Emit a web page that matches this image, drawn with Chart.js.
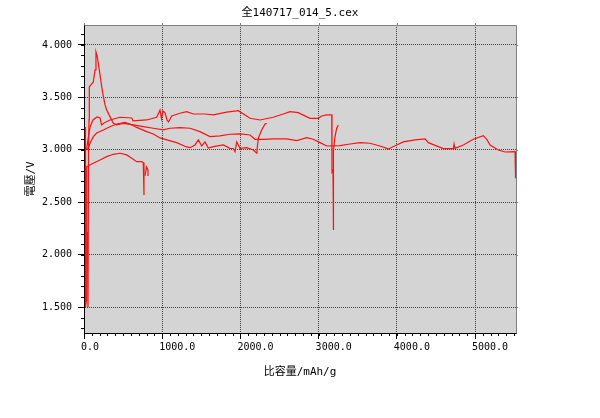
<!DOCTYPE html>
<html>
<head>
<meta charset="utf-8">
<script src="https://cdn.jsdelivr.net/npm/chart.js@4.4.1/dist/chart.umd.min.js"></script>
<style>
  html, body { margin: 0; padding: 0; background: #fff; }
</style>
</head>
<body>
<canvas id="chart" width="600" height="418"></canvas>
<script>
// 文字
const chartTitle = "全140717_014_5.cex";
const xTitle = "比容量/mAh/g";
const yTitle = "電壓/V";

// 刻度
const xTickValues = [0, 1000, 2000, 3000, 4000, 5000];
const yTickValues = [1.5, 2.0, 2.5, 3.0, 3.5, 4.0];

// 曲线数据 (比容量 mAh/g, 电压 V)
const discharge1X = [17, 19, 32, 35, 119, 205, 290, 375, 460, 546, 610, 674, 738, 758, 767];
const discharge1V = [3.218, 1.500, 1.570, 2.841, 2.873, 2.904, 2.936, 2.958, 2.968, 2.952, 2.920, 2.888, 2.888, 2.879, 2.570];

const tail1X = [780, 799, 818, 818];
const tail1V = [2.752, 2.837, 2.809, 2.752];

const charge1X = [45, 51, 58, 64, 68, 119, 141, 153, 170, 196, 214, 239, 269, 290, 332, 375, 418, 503, 630, 758, 886,
  1014, 1100, 1228, 1356, 1483, 1611, 1739, 1867, 1995, 2123, 2187, 2293, 2421, 2592, 2720, 2848, 2932, 3018, 3104,
  3274, 3402, 3530, 3657, 3785, 3892, 3999, 4083, 4233, 4361, 4403, 4531, 4595, 4723, 4732, 4744, 4851, 4978, 5106,
  5150, 5192, 5298, 5384, 5512, 5518];
const charge1V = [2.218, 1.500, 2.999, 3.285, 3.600, 3.647, 3.762, 3.933, 3.888, 3.762, 3.666, 3.543, 3.428, 3.380,
  3.317, 3.254, 3.238, 3.252, 3.238, 3.221, 3.206, 3.190, 3.206, 3.212, 3.206, 3.174, 3.126, 3.133, 3.149, 3.152,
  3.142, 3.101, 3.101, 3.104, 3.104, 3.088, 3.117, 3.101, 3.069, 3.037, 3.040, 3.056, 3.069, 3.063, 3.037, 3.009,
  3.047, 3.076, 3.095, 3.104, 3.069, 3.031, 3.012, 3.012, 3.056, 3.015, 3.047, 3.101, 3.136, 3.101, 3.047, 2.999,
  2.980, 2.983, 2.730];

const charge2X = [32, 51, 77, 115, 166, 205, 224, 256, 332, 460, 610, 627, 802, 930, 972, 991, 1010, 1036, 1061, 1081,
  1122, 1228, 1313, 1398, 1547, 1654, 1825, 1973, 2059, 2123, 2251, 2421, 2549, 2634, 2740, 2890, 2996, 3040, 3104,
  3168, 3171, 3184, 3188, 3192, 3210, 3231, 3252];
const charge2V = [2.999, 3.095, 3.218, 3.285, 3.314, 3.304, 3.238, 3.257, 3.285, 3.311, 3.304, 3.276, 3.285, 3.311,
  3.380, 3.295, 3.371, 3.352, 3.285, 3.266, 3.323, 3.349, 3.364, 3.342, 3.342, 3.333, 3.359, 3.374, 3.333, 3.301,
  3.285, 3.311, 3.342, 3.364, 3.355, 3.301, 3.301, 3.323, 3.333, 3.333, 2.790, 2.809, 2.237, 2.999, 3.126, 3.206, 3.238];

const charge3X = [38, 55, 77, 98, 119, 162, 247, 332, 418, 524, 588, 674, 802, 886, 972, 1058, 1185, 1313, 1356, 1420,
  1462, 1505, 1547, 1590, 1654, 1782, 1867, 1909, 1931, 1953, 1995, 2081, 2165, 2209, 2212, 2229, 2272, 2315, 2336];
const charge3V = [2.999, 3.015, 3.063, 3.095, 3.126, 3.161, 3.190, 3.221, 3.247, 3.262, 3.247, 3.214, 3.174, 3.152,
  3.114, 3.095, 3.069, 3.028, 3.021, 3.047, 3.095, 3.037, 3.076, 3.018, 3.031, 3.047, 3.015, 3.013, 2.983, 3.076,
  3.015, 3.021, 2.999, 2.968, 2.999, 3.111, 3.190, 3.247, 3.252];

const seriesX = [discharge1X, tail1X, charge1X, charge2X, charge3X];
const seriesV = [discharge1V, tail1V, charge1V, charge2V, charge3V];

const FONT = "'DejaVu Sans Mono', 'Noto Sans CJK SC', monospace";
const RED = "#ff1010";

const datasets = seriesX.map((xs, i) => ({
  data: xs.map((x, j) => ({ x: x, y: seriesV[i][j] })),
  borderColor: RED,
  borderWidth: 1.2,
  pointRadius: 0,
  tension: 0,
  fill: false
}));

// 绘图区背景、边框、小刻度和标题
const plotFrame = {
  id: "plotFrame",
  beforeDraw(chart) {
    const { ctx, chartArea: a } = chart;
    ctx.save();
    ctx.fillStyle = "#d4d4d4";
    ctx.fillRect(a.left, a.top, a.right - a.left, a.bottom - a.top);
    ctx.restore();
  },
  afterDraw(chart) {
    const { ctx, chartArea: a, scales } = chart;
    const x = scales.x, y = scales.y;
    ctx.save();
    ctx.lineWidth = 1;
    ctx.strokeStyle = "#000";
    ctx.beginPath();
    for (let v = 0; v <= x.max; v += 100) {
      const px = Math.round(x.getPixelForValue(v)) + 0.5;
      ctx.moveTo(px, a.bottom);
      ctx.lineTo(px, a.bottom + 3);
    }
    for (let i = Math.ceil(y.min * 10); i <= Math.floor(y.max * 10); i++) {
      const py = Math.round(y.getPixelForValue(i / 10)) + 0.5;
      ctx.moveTo(a.left - 3, py);
      ctx.lineTo(a.left, py);
    }
    ctx.stroke();
    // 上边和右边
    ctx.strokeStyle = "#808080";
    ctx.beginPath();
    ctx.moveTo(Math.round(a.left) + 0.5, Math.round(a.top) + 0.5);
    ctx.lineTo(Math.round(a.right) + 0.5, Math.round(a.top) + 0.5);
    ctx.lineTo(Math.round(a.right) + 0.5, Math.round(a.bottom) + 0.5);
    for (const v of xTickValues) {
      const px = Math.round(x.getPixelForValue(v)) + 0.5;
      ctx.moveTo(px, a.top - 2);
      ctx.lineTo(px, a.top);
    }
    for (const v of yTickValues) {
      const py = Math.round(y.getPixelForValue(v)) + 0.5;
      ctx.moveTo(a.right, py);
      ctx.lineTo(a.right + 2, py);
    }
    ctx.stroke();
    // 标题 (整个画布居中)
    ctx.fillStyle = "#000";
    ctx.font = "11px " + FONT;
    ctx.textAlign = "center";
    ctx.textBaseline = "middle";
    ctx.fillText(chartTitle, chart.width / 2, 13);
    ctx.restore();
  }
};

new Chart(document.getElementById("chart"), {
  type: "line",
  data: { datasets: datasets },
  plugins: [plotFrame],
  options: {
    responsive: false,
    animation: false,
    layout: { padding: { left: 10, right: 84, top: 25, bottom: 0 } },
    plugins: {
      legend: { display: false },
      tooltip: { enabled: false },
      title: { display: false }
    },
    scales: {
      x: {
        type: "linear",
        min: 0,
        max: 5524,
        afterBuildTicks: (s) => { s.ticks = xTickValues.map((v) => ({ value: v })); },
        afterFit: (s) => { s.height = 85; },
        ticks: {
          callback: (v) => Number(v).toFixed(1),
          align: "start",
          labelOffset: -3,
          padding: 2,
          maxRotation: 0,
          autoSkip: false,
          color: "#000",
          font: { family: FONT, size: 10 }
        },
        grid: { color: "#404040", lineWidth: 1, drawTicks: true, tickLength: 6, tickColor: "#000" },
        border: { display: true, color: "#000", width: 1, dash: [1, 1] },
        title: {
          display: true,
          text: xTitle,
          color: "#000",
          font: { family: FONT, size: 11 },
          padding: { top: 0, bottom: 39 }
        }
      },
      y: {
        type: "linear",
        min: 1.255,
        max: 4.19,
        afterBuildTicks: (s) => { s.ticks = yTickValues.map((v) => ({ value: v })); },
        afterFit: (s) => { s.width = 74; },
        ticks: {
          callback: (v) => Number(v).toFixed(3),
          padding: 6,
          color: "#000",
          font: { family: FONT, size: 10 }
        },
        grid: { color: "#404040", lineWidth: 1, drawTicks: true, tickLength: 6, tickColor: "#000" },
        border: { display: true, color: "#000", width: 1, dash: [1, 1] },
        title: {
          display: true,
          text: yTitle,
          color: "#000",
          font: { family: FONT, size: 11 },
          padding: { top: 15, bottom: 0 }
        }
      }
    }
  }
});
</script>
</body>
</html>
